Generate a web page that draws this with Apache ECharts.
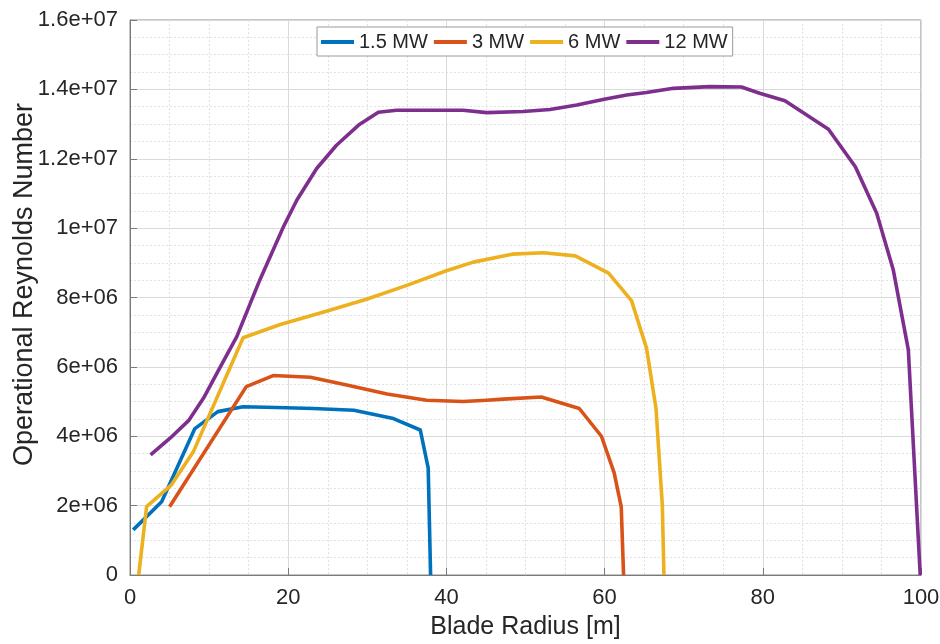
<!DOCTYPE html>
<html>
<head>
<meta charset="utf-8">
<title>Operational Reynolds Number vs Blade Radius</title>
<script src="https://cdn.jsdelivr.net/npm/echarts@6/dist/echarts.min.js"></script>
<style>
  html, body { margin: 0; padding: 0; background: #ffffff; }
  #chart { width: 940px; height: 644px; }
</style>
</head>
<body>
<div id="chart"></div>
<script>
// Blade radius [m] and operational Reynolds number for each turbine size
const radius15 = [0.4, 4.0, 8.2, 11.1, 14.3, 18.5, 23.2, 28.3, 33.3, 36.7, 37.7, 38.0];
const reynolds15 = [1.30e6, 2.11e6, 4.22e6, 4.71e6, 4.85e6, 4.83e6, 4.80e6, 4.75e6, 4.51e6, 4.18e6, 3.08e6, 0];

const radius3 = [5.0, 14.7, 18.1, 22.8, 27.4, 32.5, 37.5, 42.1, 45.1, 47.2, 52.0, 56.8, 59.6, 61.2, 62.1, 62.4];
const reynolds3 = [1.97e6, 5.43e6, 5.75e6, 5.70e6, 5.48e6, 5.22e6, 5.04e6, 5.00e6, 5.04e6, 5.07e6, 5.13e6, 4.80e6, 4.00e6, 2.95e6, 1.97e6, 0];

const radius6 = [1.1, 2.1, 5.2, 8.0, 14.3, 19.0, 24.5, 29.9, 35.0, 40.0, 43.4, 48.3, 52.3, 56.3, 60.5, 63.4, 65.3, 66.5, 67.3, 67.5];
const reynolds6 = [0, 1.97e6, 2.59e6, 3.55e6, 6.84e6, 7.22e6, 7.58e6, 7.95e6, 8.35e6, 8.77e6, 9.02e6, 9.25e6, 9.29e6, 9.20e6, 8.70e6, 7.91e6, 6.54e6, 4.80e6, 2.00e6, 0];

const radius12 = [2.6, 5.1, 7.4, 9.3, 11.3, 13.5, 16.4, 19.4, 21.1, 23.6, 26.1, 28.9, 31.4, 33.7, 37.9, 42.1, 45.1, 49.7, 53.1, 56.5, 59.8, 62.8, 65.3, 68.7, 73.3, 77.3, 79.6, 82.8, 88.3, 91.7, 94.4, 96.5, 98.4, 99.9];
const reynolds12 = [3.46e6, 3.95e6, 4.45e6, 5.10e6, 5.95e6, 6.87e6, 8.50e6, 10.04e6, 10.81e6, 11.72e6, 12.39e6, 12.97e6, 13.34e6, 13.40e6, 13.40e6, 13.40e6, 13.33e6, 13.36e6, 13.42e6, 13.55e6, 13.71e6, 13.84e6, 13.91e6, 14.03e6, 14.08e6, 14.07e6, 13.89e6, 13.67e6, 12.85e6, 11.77e6, 10.43e6, 8.79e6, 6.49e6, 0];

const seriesNames = ['1.5 MW', '3 MW', '6 MW', '12 MW'];
const yTickLabels = ['0', '2e+06', '4e+06', '6e+06', '8e+06', '1e+07', '1.2e+07', '1.4e+07', '1.6e+07'];
const xTickLabels = ['0', '20', '40', '60', '80', '100'];

const colors = ['#0072BD', '#D95319', '#EDB120', '#7E2F8E'];
const FONT = '"Liberation Sans", Arial, Helvetica, sans-serif';
const TEXT = '#262626';

function pairs(xs, ys) {
  return xs.map((x, i) => [x, ys[i]]);
}

const curves = [
  pairs(radius15, reynolds15),
  pairs(radius3, reynolds3),
  pairs(radius6, reynolds6),
  pairs(radius12, reynolds12)
];

const chart = echarts.init(document.getElementById('chart'), null, { renderer: 'canvas' });

const axisLine = { show: true, lineStyle: { color: '#7a7a7a', width: 1 } };
const majorSplit = { show: true, lineStyle: { color: '#dadada', width: 1 } };
const minorSplit = { show: true, lineStyle: { color: '#e2e2e2', width: 1, type: [2, 2] } };

chart.setOption({
  animation: false,
  backgroundColor: '#ffffff',
  color: colors,
  grid: {
    left: 130, right: 19, top: 20, bottom: 69,
    outerBoundsMode: 'none',
    containLabel: false,
    show: true, borderColor: '#8a8a8a', borderWidth: 1, backgroundColor: 'transparent'
  },
  legend: {
    data: seriesNames,
    left: 317, top: 27,
    orient: 'horizontal',
    icon: 'rect',
    itemWidth: 33, itemHeight: 4,
    itemGap: 6,
    padding: [5, 5, 4, 4],
    backgroundColor: '#ffffff',
    borderColor: '#9a9a9a', borderWidth: 1,
    textStyle: { fontFamily: FONT, fontSize: 20, color: TEXT }
  },
  xAxis: {
    type: 'value',
    min: 0, max: 100, interval: 20,
    name: 'Blade Radius [m]',
    nameLocation: 'middle', nameGap: 40,
    nameMoveOverlap: false,
    nameTextStyle: { fontFamily: FONT, fontSize: 25, color: TEXT },
    axisLine: axisLine,
    axisTick: { show: true, inside: true, length: 7, lineStyle: { color: '#7a7a7a' } },
    minorTick: { show: true, splitNumber: 4, length: 0 },
    axisLabel: {
      fontFamily: FONT, fontSize: 22, color: TEXT, margin: 12,
      formatter: v => xTickLabels[Math.round(v / 20)]
    },
    splitLine: majorSplit,
    minorSplitLine: minorSplit
  },
  yAxis: {
    type: 'value',
    min: 0, max: 1.6e7, interval: 2e6,
    name: 'Operational Reynolds Number',
    nameLocation: 'middle', nameGap: 92,
    nameMoveOverlap: false,
    nameTextStyle: { fontFamily: FONT, fontSize: 27, color: TEXT, padding: [0, 0, 0, 26] },
    axisLine: axisLine,
    axisTick: { show: true, inside: true, length: 7, lineStyle: { color: '#7a7a7a' } },
    minorTick: { show: true, splitNumber: 4, length: 0 },
    axisLabel: {
      fontFamily: FONT, fontSize: 22, color: TEXT, margin: 12,
      formatter: v => yTickLabels[Math.round(v / 2e6)]
    },
    splitLine: majorSplit,
    minorSplitLine: minorSplit
  },
  series: curves.map((d, i) => ({
    name: seriesNames[i],
    type: 'line',
    data: d,
    showSymbol: false,
    symbol: 'none',
    smooth: false,
    clip: true,
    lineStyle: { width: 3.6, color: colors[i], cap: 'butt', join: 'round' },
    itemStyle: { color: colors[i] },
    z: 3 + i
  }))
});
</script>
</body>
</html>
